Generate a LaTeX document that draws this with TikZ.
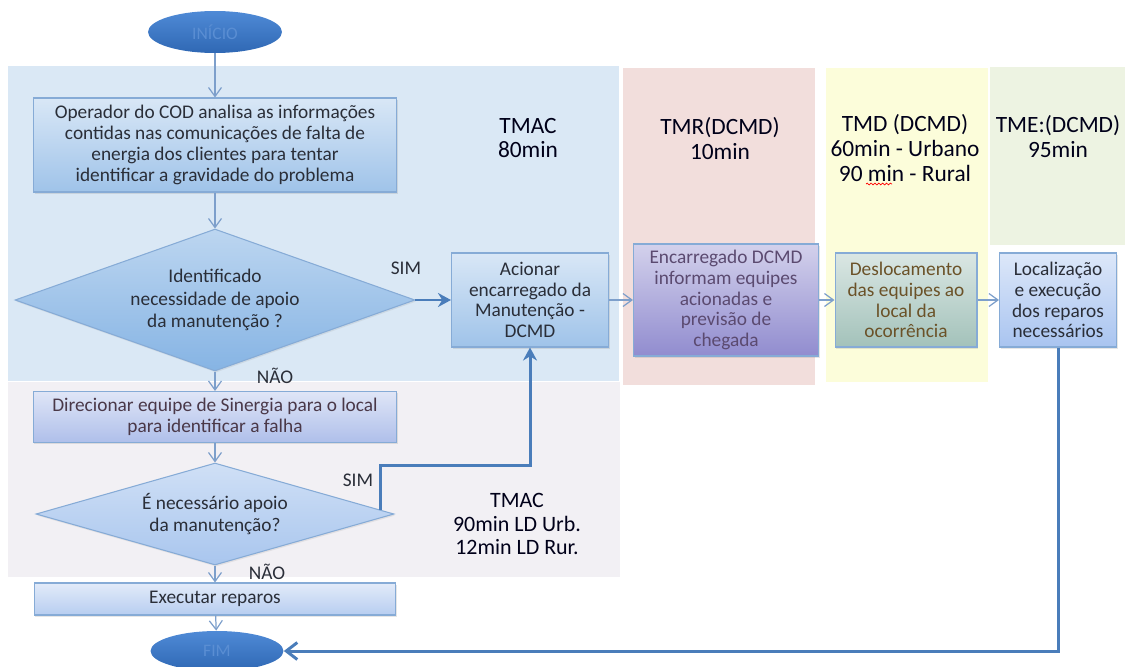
\documentclass[tikz,border=0pt]{standalone}
\usepackage{fontspec}
\setmainfont{Carlito}
\usepackage{tikz}
\usetikzlibrary{shapes.geometric, arrows.meta, shadows, calc}
\usetikzlibrary{decorations.pathmorphing}
\definecolor{fundoAzul}{HTML}{DAE8F5}
\definecolor{fundoCinza}{HTML}{F2F0F4}
\definecolor{fundoRosa}{HTML}{F2DEDC}
\definecolor{fundoAmarelo}{HTML}{FCFDDA}
\definecolor{fundoVerde}{HTML}{EDF3E2}
\definecolor{linhaAzul}{HTML}{7D9FCB}
\definecolor{linhaForte}{HTML}{4A7DBA}
\definecolor{bordaAzul}{HTML}{86ABD6}
\definecolor{textoEscuro}{HTML}{2A2E38}
\definecolor{elipseClara}{HTML}{4F8AD6}
\definecolor{elipseEscura}{HTML}{2F68B4}
\definecolor{textoElipse}{HTML}{5A8ED3}
\definecolor{azulCaixa}{HTML}{9FC3E9}
\definecolor{azulDecisao}{HTML}{86B4E4}
\definecolor{azulDecisaoB}{HTML}{A9C6EE}
\definecolor{lilasCaixa}{HTML}{AFBFEA}
\definecolor{azulExecutar}{HTML}{B7CDF0}
\definecolor{roxoCaixa}{HTML}{918CCF}
\definecolor{verdeCaixa}{HTML}{A3C2BA}
\definecolor{azulLocal}{HTML}{A9C4F0}
\definecolor{textoRoxo}{HTML}{5B4A70}
\definecolor{textoMarrom}{HTML}{6B5228}
\definecolor{textoVinho}{HTML}{4A3848}
\newcommand{\FaixaFundo}[5]{\fill[fill=#5] (#1,#2) rectangle (#3,#4);}
\newcommand{\FonteCaixa}{\fontsize{11}{11.8}\selectfont}
\newcommand{\FonteTempo}{\fontsize{13.3}{14.2}\selectfont}

\tikzset{
	caixa/.style={rectangle, draw=bordaAzul, line width=0.6pt, align=center,
		top color=#1!40!white, bottom color=#1, text=textoEscuro, font=\FonteCaixa,
		inner sep=2pt, drop shadow={opacity=0.2, shadow xshift=0.6pt, shadow yshift=-0.9pt}},
	caixa/.default=azulCaixa,
	decisao/.style={diamond, draw=bordaAzul, line width=0.6pt, align=center,
		top color=#1!55!white, bottom color=#1, text=textoEscuro, font=\fontsize{11}{12.6}\selectfont,
		inner sep=1pt, drop shadow={opacity=0.15, shadow xshift=0.6pt, shadow yshift=-0.9pt}},
	terminal/.style={ellipse, draw=none, top color=elipseClara, bottom color=elipseEscura,
		text=textoElipse, font=\fontsize{10}{11}\selectfont, inner sep=0pt},
	seta/.style={draw=linhaAzul, line width=0.7pt, -{Straight Barb[length=1.8mm, width=2.6mm]}},
	setaforte/.style={draw=linhaForte, line width=1.7pt, -{Stealth[length=2.6mm, width=2.8mm]}},
	tempo/.style={align=center, font=\FonteTempo, text=black!90!blue},
	rotulo/.style={font=\fontsize{11}{12}\selectfont, text=textoEscuro}
}

\begin{document}
\begin{tikzpicture}[x=0.02cm, y=-0.02cm]
	\useasboundingbox (0,0) rectangle (1125,666);
	% faixas de fundo
	\foreach \xa/\ya/\xb/\yb/\cor in {8/66/619/381/fundoAzul, 8/382/620/577/fundoCinza,
		623/68/815/385/fundoRosa, 826/68/988/382/fundoAmarelo, 990/67/1125/245/fundoVerde}{
		\FaixaFundo{\xa}{\ya}{\xb}{\yb}{\cor}
	}
	
	\node[terminal, minimum width=2.68cm, minimum height=0.84cm] (inicio) at (215,32) {INÍCIO};
	\node[caixa, minimum width=7.26cm, minimum height=1.88cm] (operador) at (215,145)
	{Operador do COD analisa as informações\\contidas nas comunicações de falta de\\energia dos clientes para tentar\\identificar a gravidade do problema};
	\node[decisao=azulDecisao, minimum width=8cm, minimum height=2.84cm, shape aspect=2.8] (apoioA) at (215,300)
	{Identificado\\necessidade de apoio\\da manutenção ?};
	\node[caixa, minimum width=3.14cm, minimum height=1.88cm] (acionar) at (530,300)
	{Acionar\\encarregado da\\Manutenção -\\DCMD};
	\node[caixa=lilasCaixa, minimum width=7.28cm, minimum height=1.02cm, text=textoVinho] (direcionar) at (215,417)
	{Direcionar equipe de Sinergia para o local\\para identificar a falha};
	\node[decisao=azulDecisaoB, minimum width=7.16cm, minimum height=2.04cm, shape aspect=3.5] (apoioB) at (215,514)
	{É necessário apoio\\da manutenção?};
	\node[caixa=azulExecutar, minimum width=7.24cm, minimum height=0.64cm] (executar) at (215,599) {Executar reparos};
	\node[terminal, minimum width=2.66cm, minimum height=0.8cm] (fim) at (217,651) {FIM};
	
	\node[caixa=roxoCaixa, minimum width=3.7cm, minimum height=2.24cm, text=textoRoxo] (encarregado) at (726,300)
	{Encarregado DCMD\\informam equipes\\acionadas e\\previsão de\\chegada};
	\node[caixa=verdeCaixa, minimum width=2.84cm, minimum height=1.88cm, text=textoMarrom] (deslocamento) at (906,300)
	{Deslocamento\\das equipes ao\\local da\\ocorrência};
	\node[caixa=azulLocal, minimum width=2.34cm, minimum height=1.88cm] (localizacao) at (1058,300)
	{Localização\\e execução\\dos reparos\\necessários};
	
	% tempos de cada etapa
	\node[tempo] (tmacA) at (528,138) {TMAC\\80min};
	\node[tempo] (tmr) at (720,139) {TMR(DCMD)\\10min};
	\node[tempo] (tmd) at (905,148) {TMD (DCMD)\\60min - Urbano\\90 min - Rural};
	\node[tempo] (tme) at (1058,137) {TME:(DCMD)\\95min};
	\node[tempo, font=\fontsize{12.5}{13.2}\selectfont] (tmacB) at (517,524) {TMAC\\90min LD Urb.\\12min LD Rur.};
	\draw[red, line width=0.4pt, decorate, decoration={snake, amplitude=0.5pt, segment length=2.2pt}]
	(866,184) -- (892,184);
	
	\node[rotulo] (simA) at (406,268) {SIM};
	\node[rotulo] (naoA) at (275,376) {NÃO};
	\node[rotulo] (simB) at (358,480) {SIM};
	\node[rotulo] (naoB) at (267,572) {NÃO};
	
	\coordinate (saida) at ($(apoioB.east)!0.08!(apoioB.north)$);
	\coordinate (dobra) at (acionar.south |- 0,465);
	
	\draw[seta] (inicio) -- (operador);
	\draw[seta] (operador) -- (apoioA);
	\draw[setaforte] (apoioA.east) -- (acionar.west);
	\draw[seta] (apoioA) -- (direcionar);
	\draw[seta] (direcionar) -- (apoioB);
	\draw[setaforte] (saida) |- (dobra) -- (acionar.south);
	\draw[seta] (apoioB) -- (executar);
	\draw[seta] (executar) -- (fim);
	\draw[seta] (acionar) -- (encarregado);
	\draw[seta] (encarregado) -- (deslocamento);
	\draw[seta] (deslocamento) -- (localizacao);
	\draw[setaforte, -{Straight Barb[length=2.2mm, width=3.4mm]}] (localizacao.south) |- (fim.east);
\end{tikzpicture}
\end{document}
